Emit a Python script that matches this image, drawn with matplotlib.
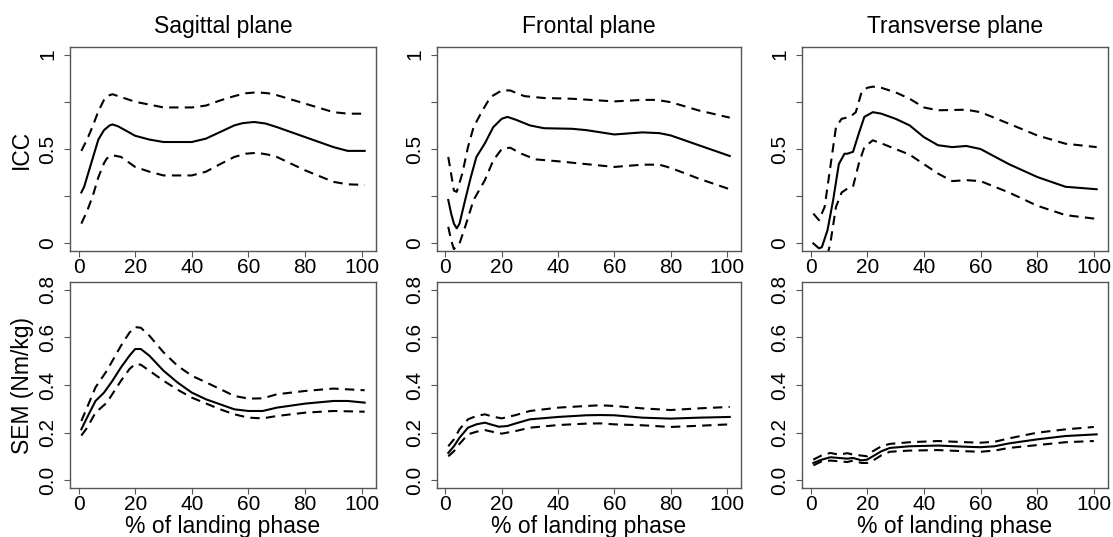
import numpy as np
import matplotlib.pyplot as plt

plt.rcParams['font.family'] = ['Liberation Sans', 'DejaVu Sans']

# ---- data (x = % of landing phase) ----

# Sagittal ICC
sag_icc_x = [1, 2, 4, 6, 7, 9, 11, 12, 14, 17, 20, 25, 30, 40, 45, 50, 55, 58, 62, 66, 70, 80, 90, 95, 101]
sag_icc_mean = [0.27, 0.30, 0.40, 0.50, 0.55, 0.60, 0.625, 0.63, 0.62, 0.595, 0.57, 0.55, 0.537, 0.537, 0.555, 0.59, 0.625, 0.637, 0.643, 0.635, 0.616, 0.563, 0.51, 0.49, 0.49]
sag_icc_x_ci = [1, 3, 5, 7, 9, 10, 12, 15, 20, 25, 30, 40, 45, 50, 55, 59, 63, 67, 70, 80, 90, 95, 101]
sag_icc_up = [0.49, 0.55, 0.62, 0.70, 0.76, 0.78, 0.79, 0.775, 0.75, 0.735, 0.72, 0.72, 0.73, 0.757, 0.78, 0.795, 0.80, 0.795, 0.785, 0.74, 0.695, 0.687, 0.687]
sag_icc_lo = [0.105, 0.17, 0.25, 0.35, 0.425, 0.45, 0.467, 0.458, 0.405, 0.38, 0.36, 0.36, 0.38, 0.42, 0.458, 0.475, 0.48, 0.47, 0.458, 0.387, 0.326, 0.313, 0.31]

# Frontal ICC
fro_icc_x = [1, 2, 3, 4, 5, 7, 9, 11, 14, 17, 20, 22, 25, 30, 35, 45, 50, 60, 70, 76, 80, 90, 101]
fro_icc_mean = [0.23, 0.16, 0.105, 0.08, 0.105, 0.23, 0.35, 0.458, 0.53, 0.616, 0.66, 0.67, 0.655, 0.625, 0.61, 0.607, 0.60, 0.577, 0.588, 0.584, 0.572, 0.52, 0.463]
fro_icc_x_up = [1, 2, 3, 4, 6, 8, 10, 13, 16, 20, 23, 28, 35, 45, 60, 70, 75, 80, 90, 101]
fro_icc_up = [0.458, 0.37, 0.28, 0.273, 0.37, 0.51, 0.616, 0.70, 0.775, 0.81, 0.81, 0.78, 0.77, 0.766, 0.752, 0.76, 0.76, 0.748, 0.704, 0.666]
fro_icc_x_lo = [1, 2, 3, 5, 7, 10, 14, 17, 20, 23, 27, 32, 40, 50, 60, 70, 76, 80, 90, 101]
fro_icc_lo = [0.088, 0.018, -0.03, 0.0, 0.088, 0.23, 0.335, 0.44, 0.50, 0.507, 0.475, 0.445, 0.435, 0.42, 0.405, 0.417, 0.417, 0.40, 0.343, 0.287]

# Transverse ICC
tra_icc_x = [1, 3, 4, 6, 8, 10, 12, 13, 15, 17, 19, 22, 25, 30, 35, 40, 45, 50, 55, 60, 70, 80, 90, 101]
tra_icc_mean = [0.0, -0.026, -0.02, 0.07, 0.23, 0.42, 0.475, 0.475, 0.485, 0.58, 0.67, 0.695, 0.687, 0.66, 0.625, 0.563, 0.52, 0.51, 0.516, 0.50, 0.42, 0.352, 0.30, 0.287]
tra_icc_x_up = [1, 3, 5, 7, 9, 11, 14, 16, 18, 20, 22, 25, 30, 35, 40, 45, 55, 60, 70, 80, 90, 101]
tra_icc_up = [0.158, 0.123, 0.194, 0.405, 0.616, 0.66, 0.67, 0.695, 0.80, 0.824, 0.83, 0.824, 0.80, 0.766, 0.72, 0.705, 0.708, 0.695, 0.634, 0.572, 0.528, 0.51]
tra_icc_x_lo = [1, 3, 5, 7, 9, 11, 13, 15, 17, 19, 22, 25, 30, 35, 40, 45, 50, 55, 60, 70, 80, 90, 101]
tra_icc_lo = [-0.2, -0.25, -0.12, 0.0, 0.194, 0.27, 0.29, 0.30, 0.42, 0.51, 0.546, 0.53, 0.50, 0.47, 0.42, 0.37, 0.33, 0.335, 0.33, 0.27, 0.20, 0.15, 0.13]

# Sagittal SEM
sag_sem_x = [1, 3, 6, 9, 12, 15, 18, 20, 22, 25, 30, 35, 40, 45, 50, 55, 60, 65, 70, 80, 90, 95, 101]
sag_sem_mean = [0.214, 0.263, 0.333, 0.368, 0.418, 0.474, 0.523, 0.551, 0.551, 0.523, 0.46, 0.41, 0.368, 0.34, 0.319, 0.298, 0.291, 0.291, 0.305, 0.322, 0.333, 0.333, 0.326]
sag_sem_x_ci = [1, 3, 6, 10, 15, 18, 20, 22, 25, 30, 35, 40, 50, 55, 60, 65, 70, 80, 90, 101]
sag_sem_up = [0.249, 0.305, 0.39, 0.46, 0.565, 0.62, 0.643, 0.64, 0.607, 0.537, 0.48, 0.439, 0.383, 0.354, 0.343, 0.344, 0.361, 0.375, 0.385, 0.378]
sag_sem_lo = [0.188, 0.22, 0.284, 0.326, 0.418, 0.467, 0.488, 0.485, 0.46, 0.418, 0.38, 0.347, 0.298, 0.277, 0.263, 0.26, 0.27, 0.284, 0.291, 0.288]

# Frontal SEM
fro_sem_x = [1, 3, 5, 8, 11, 14, 16, 19, 22, 25, 30, 40, 50, 55, 60, 70, 80, 90, 101]
fro_sem_mean = [0.115, 0.143, 0.179, 0.221, 0.235, 0.242, 0.235, 0.225, 0.228, 0.239, 0.256, 0.266, 0.273, 0.274, 0.273, 0.263, 0.259, 0.263, 0.266]
fro_sem_x_ci = [1, 3, 5, 8, 11, 14, 17, 20, 25, 30, 40, 50, 55, 60, 70, 80, 90, 101]
fro_sem_up = [0.143, 0.172, 0.214, 0.256, 0.27, 0.277, 0.267, 0.26, 0.274, 0.291, 0.305, 0.312, 0.315, 0.312, 0.302, 0.295, 0.302, 0.308]
fro_sem_lo = [0.101, 0.122, 0.153, 0.193, 0.204, 0.211, 0.203, 0.196, 0.207, 0.221, 0.232, 0.238, 0.239, 0.235, 0.231, 0.224, 0.229, 0.235]

# Transverse SEM
tra_sem_x = [1, 4, 7, 10, 13, 15, 18, 20, 22, 25, 28, 35, 45, 55, 60, 65, 70, 80, 90, 101]
tra_sem_mean = [0.073, 0.087, 0.097, 0.094, 0.091, 0.094, 0.084, 0.087, 0.101, 0.122, 0.136, 0.143, 0.146, 0.141, 0.139, 0.143, 0.155, 0.172, 0.186, 0.193]
tra_sem_x_ci = [1, 4, 7, 10, 13, 15, 18, 20, 22, 25, 28, 35, 45, 55, 60, 65, 70, 80, 90, 100]
tra_sem_up = [0.087, 0.105, 0.115, 0.108, 0.114, 0.108, 0.104, 0.101, 0.122, 0.143, 0.153, 0.16, 0.165, 0.16, 0.158, 0.162, 0.176, 0.20, 0.214, 0.224]
tra_sem_lo = [0.063, 0.08, 0.083, 0.08, 0.077, 0.083, 0.073, 0.073, 0.083, 0.105, 0.12, 0.125, 0.127, 0.122, 0.12, 0.125, 0.136, 0.148, 0.16, 0.165]

titles = ['Sagittal plane', 'Frontal plane', 'Transverse plane']

top_panels = [
    (sag_icc_x, sag_icc_mean, sag_icc_x_ci, sag_icc_up, sag_icc_x_ci, sag_icc_lo),
    (fro_icc_x, fro_icc_mean, fro_icc_x_up, fro_icc_up, fro_icc_x_lo, fro_icc_lo),
    (tra_icc_x, tra_icc_mean, tra_icc_x_up, tra_icc_up, tra_icc_x_lo, tra_icc_lo),
]
bottom_panels = [
    (sag_sem_x, sag_sem_mean, sag_sem_x_ci, sag_sem_up, sag_sem_x_ci, sag_sem_lo),
    (fro_sem_x, fro_sem_mean, fro_sem_x_ci, fro_sem_up, fro_sem_x_ci, fro_sem_lo),
    (tra_sem_x, tra_sem_mean, tra_sem_x_ci, tra_sem_up, tra_sem_x_ci, tra_sem_lo),
]

# ---- layout (pixel boxes, like R's par layout) ----
W, H = 1113, 537
fig = plt.figure(figsize=(W / 100, H / 100), dpi=100)

col_px = [(70, 376), (437, 741), (802, 1108)]
row_px = [(47, 251), (282, 488)]

box_col = '#555555'


def make_ax(c, r):
    x0, x1 = col_px[c]
    y0, y1 = row_px[r]
    ax = fig.add_axes([x0 / W, 1 - y1 / H, (x1 - x0) / W, (y1 - y0) / H])
    for s in ax.spines.values():
        s.set_color(box_col)
        s.set_linewidth(1.0)
    ax.tick_params(direction='out', length=4, width=0.8, color=box_col,
                   labelsize=15, pad=1)
    ax.tick_params(axis='y', pad=5)
    ax.set_xlim(-3, 105)
    ax.set_xticks([0, 20, 40, 60, 80, 100])
    return ax


def draw(ax, p):
    x, m, xu, up, xl, lo = p
    ax.plot(x, m, color='black', lw=1.5, solid_joinstyle='round')
    ax.plot(xu, up, color='black', lw=1.5, dashes=(4.5, 3))
    ax.plot(xl, lo, color='black', lw=1.5, dashes=(4.5, 3))


for c in range(3):
    ax = make_ax(c, 0)
    draw(ax, top_panels[c])
    ax.set_ylim(-0.04, 1.04)
    ax.set_yticks([0, 0.25, 0.5, 0.75, 1])
    ax.set_yticklabels(['0', '', '0.5', '', '1'], rotation=90, va='center')
    ax.set_title(titles[c], fontsize=16.5, pad=10)
    if c == 0:
        ax.set_ylabel('ICC', fontsize=16.5, labelpad=4)

    ax = make_ax(c, 1)
    draw(ax, bottom_panels[c])
    ax.set_ylim(-0.032, 0.832)
    ax.set_yticks([0.0, 0.2, 0.4, 0.6, 0.8])
    ax.set_yticklabels(['0.0', '0.2', '0.4', '0.6', '0.8'], rotation=90, va='center')
    ax.set_xlabel('% of landing phase', fontsize=16.5, labelpad=1)
    if c == 0:
        ax.set_ylabel('SEM (Nm/kg)', fontsize=16.5, labelpad=3)

fig.savefig('out.png', dpi=100)
